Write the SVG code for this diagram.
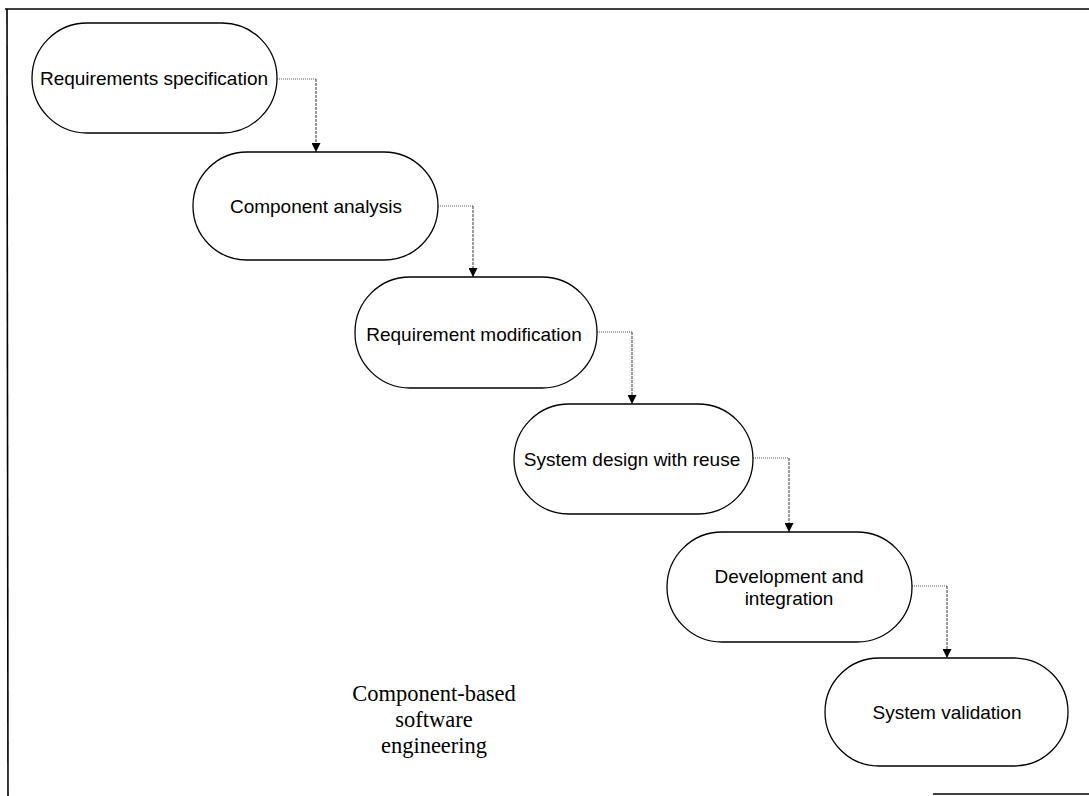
<svg xmlns="http://www.w3.org/2000/svg" width="1089" height="796" viewBox="0 0 1089 796">
<style>
.node{fill:#fff;stroke:#000;stroke-width:1.3}
.lbl{font-family:"Liberation Sans",Arial,sans-serif;font-size:19px;fill:#000;text-anchor:middle}
.cap{font-family:"Liberation Serif","Times New Roman",serif;font-size:22.5px;fill:#000;text-anchor:middle}
.h{fill:none;stroke:#555;stroke-width:1;stroke-dasharray:1 1}
.v{fill:none;stroke:#333;stroke-width:1;stroke-dasharray:3 1}
.frame{stroke:#000;stroke-width:1.6;fill:none}
</style>
<defs>
<marker id="arr" viewBox="0 0 10 10" refX="10" refY="5" markerWidth="9" markerHeight="9" markerUnits="userSpaceOnUse" orient="auto">
<path d="M0,0 L10,5 L0,10 Z" fill="#000"/>
</marker>
</defs>
<rect width="1089" height="796" fill="#fff"/>
<g id="frame">
<line class="frame" x1="5" y1="9" x2="1089" y2="9"/>
<line class="frame" x1="7" y1="9" x2="8" y2="796"/>
<line class="frame" x1="933" y1="794" x2="1089" y2="794"/>
</g>
<g id="connectors">
<path class="h" d="M277,79 H316"/><path class="v" d="M316,79 V152" marker-end="url(#arr)"/>
<path class="h" d="M438,206 H473"/><path class="v" d="M473,206 V277" marker-end="url(#arr)"/>
<path class="h" d="M597,332 H632"/><path class="v" d="M632,332 V404" marker-end="url(#arr)"/>
<path class="h" d="M753,458 H789"/><path class="v" d="M789,458 V532" marker-end="url(#arr)"/>
<path class="h" d="M912,586 H947"/><path class="v" d="M947,586 V658" marker-end="url(#arr)"/>
</g>
<g id="n1"><rect class="node" x="32" y="23" width="245" height="110" rx="55"/><text class="lbl" x="154" y="85">Requirements specification</text></g>
<g id="n2"><rect class="node" x="193" y="152" width="245" height="108" rx="54"/><text class="lbl" x="316" y="213">Component analysis</text></g>
<g id="n3"><rect class="node" x="355" y="277" width="242" height="111" rx="55"/><text class="lbl" x="474" y="341">Requirement modification</text></g>
<g id="n4"><rect class="node" x="514" y="404" width="239" height="110" rx="55"/><text class="lbl" x="632" y="466">System design with reuse</text></g>
<g id="n5"><rect class="node" x="667" y="532" width="245" height="110" rx="55"/><text class="lbl" x="789" y="583">Development and</text><text class="lbl" x="789" y="605">integration</text></g>
<g id="n6"><rect class="node" x="825" y="658" width="243" height="108" rx="54"/><text class="lbl" x="947" y="719">System validation</text></g>
<g id="caption">
<text class="cap" x="434" y="701">Component-based</text>
<text class="cap" x="434" y="727">software</text>
<text class="cap" x="434" y="753">engineering</text>
</g>
</svg>
